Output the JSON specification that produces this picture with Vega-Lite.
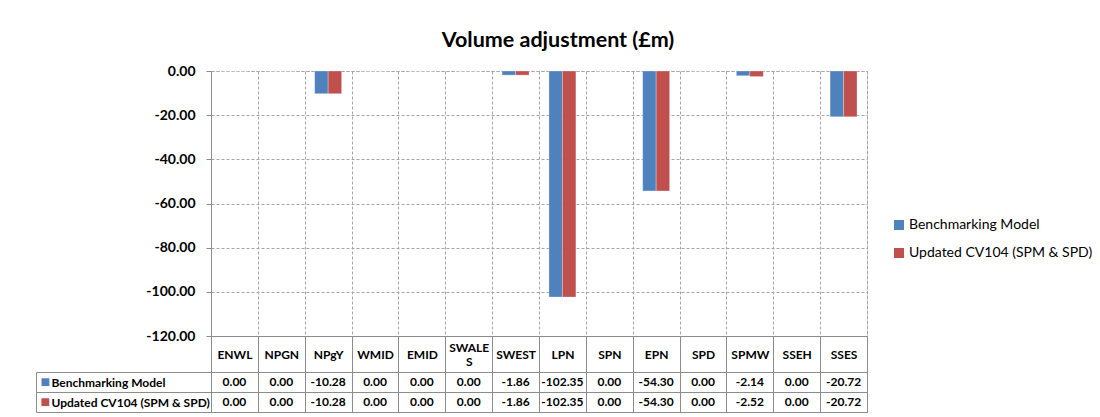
{
  "$schema": "https://vega.github.io/schema/vega-lite/v6.json",
  "padding": {"left": 35, "top": 29, "right": 5, "bottom": 0},
  "spacing": 36,
  "bounds": "flush",
  "config": {
    "font": "Lato",
    "locale": {"number": {"decimal": ".", "thousands": ",", "grouping": [3], "currency": ["£", ""], "minus": "-"}}
  },
  "datasets": {
    "volume": [
      {"dno": "ENWL", "series": "Benchmarking Model", "value": 0},
      {"dno": "ENWL", "series": "Updated CV104 (SPM & SPD)", "value": 0},
      {"dno": "NPGN", "series": "Benchmarking Model", "value": 0},
      {"dno": "NPGN", "series": "Updated CV104 (SPM & SPD)", "value": 0},
      {"dno": "NPgY", "series": "Benchmarking Model", "value": -10.28},
      {"dno": "NPgY", "series": "Updated CV104 (SPM & SPD)", "value": -10.28},
      {"dno": "WMID", "series": "Benchmarking Model", "value": 0},
      {"dno": "WMID", "series": "Updated CV104 (SPM & SPD)", "value": 0},
      {"dno": "EMID", "series": "Benchmarking Model", "value": 0},
      {"dno": "EMID", "series": "Updated CV104 (SPM & SPD)", "value": 0},
      {"dno": "SWALES", "series": "Benchmarking Model", "value": 0},
      {"dno": "SWALES", "series": "Updated CV104 (SPM & SPD)", "value": 0},
      {"dno": "SWEST", "series": "Benchmarking Model", "value": -1.86},
      {"dno": "SWEST", "series": "Updated CV104 (SPM & SPD)", "value": -1.86},
      {"dno": "LPN", "series": "Benchmarking Model", "value": -102.35},
      {"dno": "LPN", "series": "Updated CV104 (SPM & SPD)", "value": -102.35},
      {"dno": "SPN", "series": "Benchmarking Model", "value": 0},
      {"dno": "SPN", "series": "Updated CV104 (SPM & SPD)", "value": 0},
      {"dno": "EPN", "series": "Benchmarking Model", "value": -54.30},
      {"dno": "EPN", "series": "Updated CV104 (SPM & SPD)", "value": -54.30},
      {"dno": "SPD", "series": "Benchmarking Model", "value": 0},
      {"dno": "SPD", "series": "Updated CV104 (SPM & SPD)", "value": 0},
      {"dno": "SPMW", "series": "Benchmarking Model", "value": -2.14},
      {"dno": "SPMW", "series": "Updated CV104 (SPM & SPD)", "value": -2.52},
      {"dno": "SSEH", "series": "Benchmarking Model", "value": 0},
      {"dno": "SSEH", "series": "Updated CV104 (SPM & SPD)", "value": 0},
      {"dno": "SSES", "series": "Benchmarking Model", "value": -20.72},
      {"dno": "SSES", "series": "Updated CV104 (SPM & SPD)", "value": -20.72}
    ]
  },
  "vconcat": [
    {
      "width": 656,
      "height": 265,
      "title": {"text": "Volume adjustment (£m)", "fontSize": 21.5, "fontWeight": "bold", "color": "#000000", "anchor": "middle", "offset": 13, "dx": 19},
      "data": {"name": "volume"},
      "view": {"stroke": "#a6a6a6", "strokeDash": [3, 2]},
      "mark": {"type": "bar", "stroke": "#ffffff", "strokeOpacity": 0.35, "strokeWidth": 0.8},
      "encoding": {
        "x": {
          "field": "dno", "type": "nominal",
          "sort": ["ENWL", "NPGN", "NPgY", "WMID", "EMID", "SWALES", "SWEST", "LPN", "SPN", "EPN", "SPD", "SPMW", "SSEH", "SSES"],
          "scale": {"paddingInner": 0, "paddingOuter": 0},
          "axis": {
            "title": null, "orient": "bottom", "tickBand": "extent",
            "grid": true, "gridColor": "#a6a6a6", "gridDash": [3, 2],
            "tickSize": 36, "tickColor": "#8c8c8c", "domainColor": "#8c8c8c",
            "labelAngle": 0, "labelBaseline": "middle",
            "labelPadding": {"condition": {"test": "datum.value == 'SWALES'", "value": -25}, "value": -18},
            "labelFontWeight": "bold", "labelFontSize": 12, "labelColor": "#000000", "labelLineHeight": 14,
            "labelExpr": "datum.value == 'SWALES' ? ['SWALE', 'S'] : datum.value"
          }
        },
        "xOffset": {
          "field": "series", "type": "nominal", "sort": null,
          "scale": {"paddingInner": 0, "paddingOuter": 0.74}
        },
        "y": {
          "field": "value", "type": "quantitative",
          "scale": {"domain": [-120, 0], "nice": false},
          "axis": {
            "title": null, "values": [-120, -100, -80, -60, -40, -20, 0], "format": ".2f",
            "grid": true, "gridColor": "#a6a6a6", "gridDash": [3, 2],
            "tickSize": 5, "tickColor": "#8c8c8c", "domainColor": "#8c8c8c",
            "labelFontWeight": "bold", "labelFontSize": 14, "labelColor": "#000000", "labelPadding": 11
          }
        },
        "color": {
          "field": "series", "type": "nominal",
          "scale": {"domain": ["Benchmarking Model", "Updated CV104 (SPM & SPD)"], "range": ["#4f81bd", "#c0504d"]},
          "legend": {
            "title": null, "orient": "none", "legendX": 681, "legendY": 147, "padding": 0,
            "symbolType": "square", "symbolSize": 100, "symbolStrokeWidth": 0,
            "labelFontSize": 14, "labelColor": "#000000", "labelOffset": 3, "labelLimit": 300, "rowPadding": 14
          }
        }
      }
    },
    {
      "width": 656,
      "height": 40,
      "data": {"name": "volume"},
      "view": {"stroke": "#8c8c8c"},
      "layer": [
        {
          "mark": {"type": "text", "fontWeight": "bold", "fontSize": 12, "color": "#000000"},
          "encoding": {
            "x": {
              "field": "dno", "type": "nominal",
              "sort": ["ENWL", "NPGN", "NPgY", "WMID", "EMID", "SWALES", "SWEST", "LPN", "SPN", "EPN", "SPD", "SPMW", "SSEH", "SSES"],
              "scale": {"paddingInner": 0, "paddingOuter": 0},
              "axis": {"title": null, "labels": false, "ticks": false, "domain": false, "grid": true, "tickBand": "extent", "gridColor": "#8c8c8c"}
            },
            "y": {
              "field": "series", "type": "nominal",
              "sort": ["Benchmarking Model", "Updated CV104 (SPM & SPD)"],
              "scale": {"paddingInner": 0, "paddingOuter": 0},
              "axis": {
                "title": null, "orient": "left", "tickBand": "extent", "grid": true, "gridColor": "#8c8c8c",
                "tickSize": 175, "tickColor": "#8c8c8c", "domain": false,
                "labelAlign": "left", "labelBaseline": "middle", "labelPadding": -15,
                "labelFontWeight": "bold", "labelFontSize": 12, "labelColor": "#000000", "labelLimit": 170
              }
            },
            "text": {"field": "value", "type": "quantitative", "format": ".2f"}
          }
        },
        {
          "mark": {"type": "text", "opacity": 0},
          "encoding": {
            "y": {
              "field": "series", "type": "nominal",
              "sort": ["Benchmarking Model", "Updated CV104 (SPM & SPD)"],
              "axis": {
                "title": null, "orient": "left", "grid": false, "ticks": false, "domain": false,
                "labelExpr": "'■'", "labelAlign": "left", "labelBaseline": "middle", "labelPadding": 171, "labelFontSize": 16,
                "labelColor": {"condition": {"test": "datum.value == 'Benchmarking Model'", "value": "#4f81bd"}, "value": "#c0504d"}
              }
            }
          }
        },
        {
          "mark": {"type": "text", "opacity": 0},
          "encoding": {
            "y": {
              "field": "series", "type": "nominal",
              "sort": ["Benchmarking Model", "Updated CV104 (SPM & SPD)"],
              "axis": {
                "title": null, "orient": "left", "offset": 175, "grid": false, "ticks": false, "labels": false,
                "domain": true, "domainColor": "#8c8c8c"
              }
            }
          }
        }
      ],
      "resolve": {"axis": {"y": "independent"}}
    }
  ]
}
